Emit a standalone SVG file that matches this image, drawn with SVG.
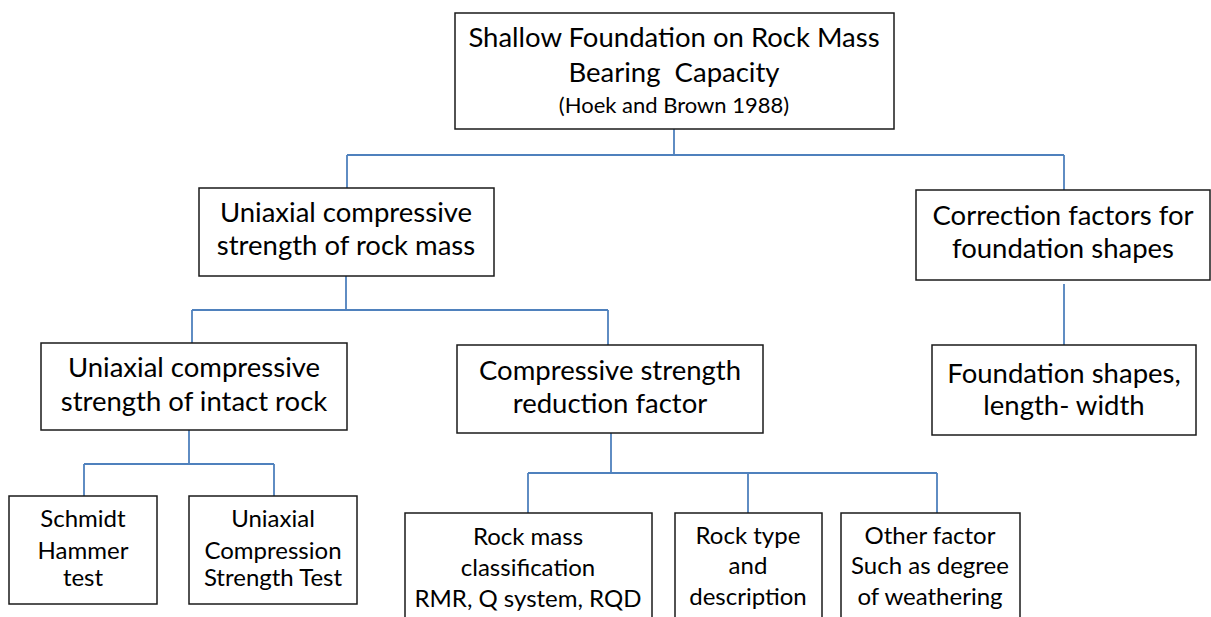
<svg xmlns="http://www.w3.org/2000/svg" width="1211" height="617" viewBox="0 0 1211 617">
  <style>
    .box { fill: #ffffff; stroke: #1a1a1a; stroke-width: 1.5; }
    .wire { fill: none; stroke: #4f81bd; stroke-width: 1.8; }
    text { font-family: Lato, "Liberation Sans", sans-serif; fill: #000000; text-anchor: middle; white-space: pre; }
    .lg { font-size: 27.5px; }
    .sm { font-size: 22px; }
    .md { font-size: 24px; }
  </style>
  <rect width="1211" height="617" fill="#ffffff"/>

  <!-- connectors -->
  <g id="connectors">
    <path class="wire" d="M674,129 V155 M347,155 H1064 M347,155 V188 M1064,155 V190"/>
    <path class="wire" d="M346,276 V310 M192,310 H608 M192,310 V343 M608,310 V345"/>
    <path class="wire" d="M1064,284 V345"/>
    <path class="wire" d="M189,430 V464 M84,464 H274 M84,464 V496 M274,464 V496"/>
    <path class="wire" d="M611,433 V473 M528,473 H937 M528,473 V513 M748,473 V513 M937,473 V513"/>
  </g>

  <g id="root">
    <rect class="box" x="455" y="13" width="439" height="116"/>
    <text class="lg" x="674" y="47">Shallow Foundation on Rock Mass</text>
    <text class="lg" x="674" y="82">Bearing  Capacity</text>
    <text class="sm" x="674" y="113">(Hoek and Brown 1988)</text>
  </g>

  <g id="ucs-rock-mass">
    <rect class="box" x="199" y="188" width="295" height="88"/>
    <text class="lg" x="346" y="222">Uniaxial compressive</text>
    <text class="lg" x="346" y="255">strength of rock mass</text>
  </g>

  <g id="correction-factors">
    <rect class="box" x="916" y="190" width="294" height="90"/>
    <text class="lg" x="1063" y="225">Correction factors for</text>
    <text class="lg" x="1063" y="258">foundation shapes</text>
  </g>

  <g id="ucs-intact-rock">
    <rect class="box" x="41" y="343" width="306" height="87"/>
    <text class="lg" x="194" y="377">Uniaxial compressive</text>
    <text class="lg" x="194" y="411">strength of intact rock</text>
  </g>

  <g id="reduction-factor">
    <rect class="box" x="457" y="345" width="306" height="88"/>
    <text class="lg" x="610" y="380">Compressive strength</text>
    <text class="lg" x="610" y="413">reduction factor</text>
  </g>

  <g id="foundation-shapes">
    <rect class="box" x="932" y="345" width="264" height="90"/>
    <text class="lg" x="1064" y="383">Foundation shapes,</text>
    <text class="lg" x="1064" y="415">length- width</text>
  </g>

  <g id="schmidt-hammer">
    <rect class="box" x="9" y="496" width="148" height="108"/>
    <text class="md" x="83" y="527">Schmidt</text>
    <text class="md" x="83" y="559">Hammer</text>
    <text class="md" x="83" y="586">test</text>
  </g>

  <g id="ucs-test">
    <rect class="box" x="189" y="496" width="168" height="108"/>
    <text class="md" x="273" y="527">Uniaxial</text>
    <text class="md" x="273" y="559">Compression</text>
    <text class="md" x="273" y="586">Strength Test</text>
  </g>

  <g id="rock-mass-classification">
    <rect class="box" x="405" y="513" width="247" height="120"/>
    <text class="md" x="528" y="545">Rock mass</text>
    <text class="md" x="528" y="576">classification</text>
    <text class="md" x="528" y="607">RMR, Q system, RQD</text>
  </g>

  <g id="rock-type">
    <rect class="box" x="675" y="513" width="147" height="120"/>
    <text class="md" x="748" y="544">Rock type</text>
    <text class="md" x="748" y="574">and</text>
    <text class="md" x="748" y="605">description</text>
  </g>

  <g id="other-factor">
    <rect class="box" x="841" y="513" width="179" height="120"/>
    <text class="md" x="930" y="544">Other factor</text>
    <text class="md" x="930" y="574">Such as degree</text>
    <text class="md" x="930" y="605">of weathering</text>
  </g>
</svg>
